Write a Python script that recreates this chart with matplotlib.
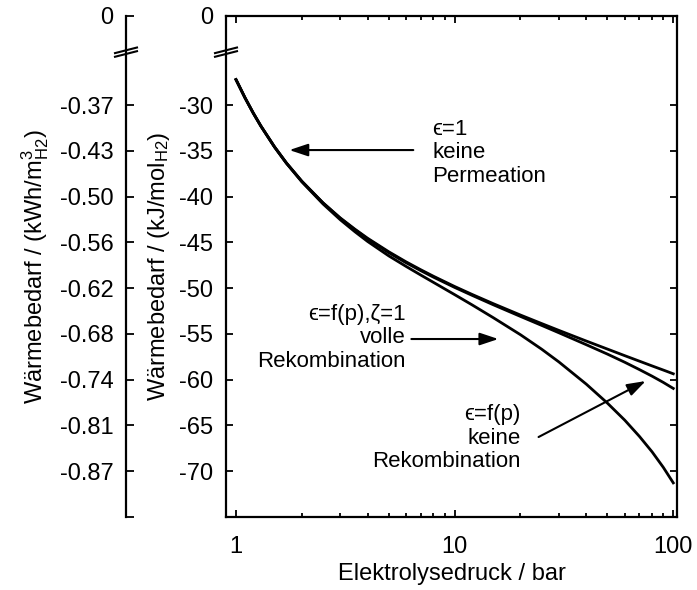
import matplotlib
matplotlib.use("Agg")
import matplotlib.pyplot as plt
from matplotlib.ticker import FixedLocator, LogLocator, NullFormatter

plt.rcParams['font.family'] = ['Liberation Sans', 'DejaVu Sans']
plt.rcParams['mathtext.fontset'] = 'custom'
plt.rcParams['mathtext.rm'] = 'Liberation Sans'
plt.rcParams['mathtext.it'] = 'Liberation Sans'

# pressure in bar
p = [1, 1.1, 1.2, 1.3, 1.5, 1.7, 2, 2.5, 3, 3.5, 4, 5, 6, 7, 8, 10, 12, 15,
     20, 25, 30, 40, 50, 60, 70, 80, 90, 100]
# heat demand in kJ/mol H2
q_eps1 = [-27.2, -29.2, -30.87, -32.28, -34.55, -36.31, -38.31, -40.67, -42.32,
          -43.55, -44.54, -46.02, -47.12, -47.98, -48.69, -49.81, -50.67, -51.68,
          -52.93, -53.86, -54.61, -55.77, -56.65, -57.37, -57.97, -58.49, -58.94,
          -59.35]
q_voll = [-27.2, -29.2, -30.87, -32.28, -34.55, -36.31, -38.31, -40.67, -42.37,
          -43.61, -44.62, -46.12, -47.22, -48.08, -48.79, -49.91, -50.77, -51.80,
          -53.08, -54.06, -54.87, -56.17, -57.20, -58.09, -58.89, -59.61, -60.29,
          -60.95]
q_keine = [-27.2, -29.2, -30.87, -32.29, -34.57, -36.34, -38.37, -40.79, -42.52,
           -43.83, -44.89, -46.47, -47.62, -48.56, -49.36, -50.70, -51.81, -53.21,
           -55.08, -56.66, -58.06, -60.48, -62.56, -64.42, -66.19, -67.88, -69.57,
           -71.27]

kj_ticks = [-30, -35, -40, -45, -50, -55, -60, -65, -70]
kj_labels = ['-30', '-35', '-40', '-45', '-50', '-55', '-60', '-65', '-70']
kwh_labels = ['-0.37', '-0.43', '-0.50', '-0.56', '-0.62', '-0.68', '-0.74', '-0.81', '-0.87']

y_bottom = -75
y_top = -20.25   # position of the "0" tick above the axis break
y_break = -24.2

fs = 17
fs_ann = 16
fig = plt.figure(figsize=(6.97, 5.90), dpi=100)
W, H = 697, 590
ax = fig.add_axes([226 / W, 1 - 517 / H, (677 - 226) / W, (517 - 16) / H])

for q in (q_eps1, q_voll, q_keine):
    ax.plot(p, q, color='k', lw=2.0)

ax.set_xscale('log')
ax.set_xlim(0.9, 104)
ax.set_ylim(y_bottom, y_top)
ax.xaxis.set_major_locator(FixedLocator([1, 10, 100]))
ax.set_xticklabels(['1', '10', '100'])
ax.xaxis.set_minor_locator(LogLocator(base=10, subs=range(2, 10)))
ax.xaxis.set_minor_formatter(NullFormatter())
ax.set_yticks([y_top] + kj_ticks)
ax.set_yticklabels(['0'] + kj_labels)
ax.tick_params(which='both', direction='in', top=True, right=True, labelsize=fs,
               width=1.3, pad=9)
ax.tick_params(which='major', length=5)
ax.tick_params(which='minor', length=3)
ax.tick_params(axis='x', pad=14)
for s in ax.spines.values():
    s.set_linewidth(1.6)

ax.set_xlabel('Elektrolysedruck / bar', fontsize=fs, labelpad=3)
ax.set_ylabel(r'Wärmebedarf / (kJ/mol$_{\mathrm{H2}}$)', fontsize=fs)
ax.yaxis.set_label_coords(-0.12, 0.5)

# second scale in kWh/m3
ax2 = fig.add_axes([126 / W, 1 - 517 / H, 0.05, (517 - 16) / H])
ax2.patch.set_visible(False)
for side in ('top', 'right', 'bottom'):
    ax2.spines[side].set_visible(False)
ax2.spines['left'].set_linewidth(1.6)
ax2.set_xticks([])
ax2.set_ylim(y_bottom, y_top)
ax2.set_yticks([y_top] + kj_ticks + [y_bottom])
ax2.set_yticklabels(['0'] + kwh_labels + [''])
ax2.tick_params(direction='in', length=6, width=1.3, labelsize=fs, pad=9)
ax2.set_ylabel(r'Wärmebedarf / (kWh/m$^3_{\mathrm{H2}}$)', fontsize=fs)
ax2.yaxis.set_label_coords(-2.15, 0.5)

# axis break marks
for a in (ax, ax2):
    wpx = a.bbox.width
    dx = 11 / wpx
    dy = 2.8 / 9.15
    for off in (-0.2, 0.2):
        a.plot([-dx, dx], [y_break - dy + off, y_break + dy + off],
               transform=a.get_yaxis_transform(), color='k', lw=1.5, clip_on=False)

arrow = dict(arrowstyle='-|>,head_length=0.75,head_width=0.25', mutation_scale=15,
             lw=1.5, color='k', shrinkA=0, shrinkB=0)
ax.annotate('', xy=(1.754, -34.9), xytext=(6.47, -34.9), arrowprops=arrow)
ax.text(7.91, -35.2, 'ϵ=1\nkeine\nPermeation', fontsize=fs_ann, ha='left', va='center',
        linespacing=1.15)
ax.annotate('', xy=(15.85, -55.55), xytext=(6.34, -55.55), arrowprops=arrow)
ax.text(5.95, -55.4, 'ϵ=f(p),ζ=1\nvolle\nRekombination', fontsize=fs_ann, ha='right',
        va='center', multialignment='right', linespacing=1.15)
ax.annotate('', xy=(74.8, -60.14), xytext=(24.2, -66.26), arrowprops=arrow)
ax.text(20.0, -66.4, 'ϵ=f(p)\nkeine\nRekombination', fontsize=fs_ann, ha='right',
        va='center', multialignment='right', linespacing=1.15)

fig.savefig('out.png', dpi=100)
